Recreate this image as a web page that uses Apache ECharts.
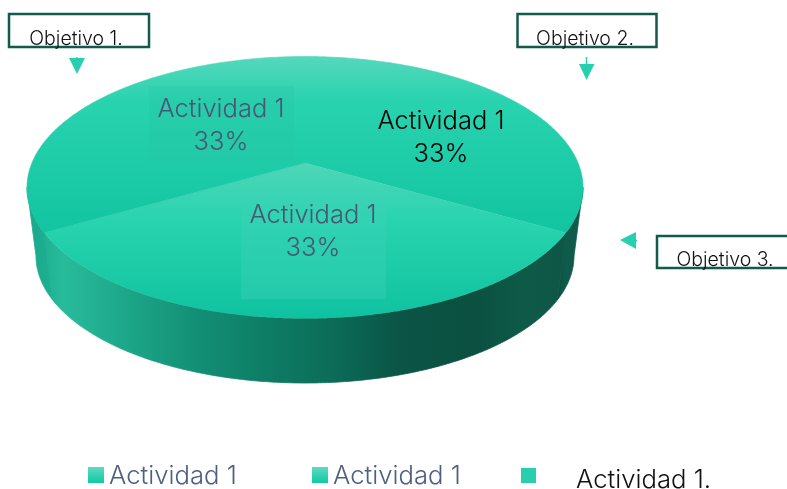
<!DOCTYPE html>
<html><head><meta charset="utf-8">
<style>html,body{margin:0;padding:0;background:#fff}#c{width:787px;height:489px}</style>
<script src="https://cdn.jsdelivr.net/npm/echarts@6/dist/echarts.min.js"></script></head>
<body><div id="c"></div>
<script>
// Data
const categories = ['Actividad 1', 'Actividad 1', 'Actividad 1'];
const values = [33, 33, 33];
const percentLabels = ['33%', '33%', '33%'];
const legendLabels = ['Actividad 1', 'Actividad 1', 'Actividad 1.'];
const objectives = ['Objetivo 1.', 'Objetivo 2.', 'Objetivo 3.'];

// Layout and style
const FONT = 'Inter, "Open Sans", sans-serif';
const TOP = {cx: 305, cy: 187.5, rx: 278, ry: 131};
const BOTTOM = {cx: 305, cy: 256, rx: 269, ry: 127};
const BETA = -0.187;
const START = -90;
const total = values.reduce((a, b) => a + b, 0);
const G = (a, b, c, d, stops) => new echarts.graphic.LinearGradient(a, b, c, d, stops.map(s => ({offset: s[0], color: s[1]})));
const upper = () => G(0, 0, 0, 1, [[0, '#55d8bb'], [0.25, '#29d3af'], [1, '#12c4a1']]);
const topFills = [upper, () => G(0, 0, 0, 1, [[0, '#4fd6b8'], [0.35, '#2ad4b0'], [1, '#0fc29f']]), upper];
const wallFills = [
  () => G(0, 0, 1, 0, [[0, '#0b4f40'], [0.3, '#0f5a4a'], [1, '#0f5a4a']]),
  () => G(0, 0, 1, 0, [[0, '#1fb193'], [0.04, '#27bb9b'], [0.3, '#128e74'], [0.565, '#0b6a56'], [0.68, '#0b5546'], [0.82, '#0b5041'], [0.92, '#0e5a49'], [1, '#0e5645']]),
  () => G(0, 0, 1, 0, [[0, '#18a98b'], [1, '#1fb093']])
];
const labelPos = [[441, 138, null, '#000000'], [313, 232, [241, 191, 145, 108], '#4a5672'], [221, 126, [149, 86, 145, 75], '#4a5672']];

function project(e, deg) {
  const t = deg * Math.PI / 180, x = Math.cos(t), y = Math.sin(t), w = 1 + BETA * y;
  return [e.cx + e.rx * x * Math.sqrt(1 - BETA * BETA) / w, e.cy + e.ry * (y + BETA) / w];
}
function arc(e, from, to) {
  const pts = [], n = Math.max(2, Math.ceil(Math.abs(to - from) * 2));
  for (let i = 0; i <= n; i++) pts.push(project(e, from + (to - from) * i / n));
  return pts;
}
const FRONT_MIN = Math.asin(-BETA) * 180 / Math.PI, FRONT_MAX = 180 - FRONT_MIN;

function renderSlice(params, api) {
  const i = params.dataIndex;
  let a0 = START;
  for (let k = 0; k < i; k++) a0 += values[k] / total * 360;
  const a1 = a0 + api.value(0) / total * 360;
  const children = [];
  // visible part of the side wall
  [0, 360].forEach(off => {
    const f = Math.max(a0, FRONT_MIN + off), t = Math.min(a1, FRONT_MAX + off);
    if (t > f) {
      const wf = wallFills[i]();
      children.push({type: 'polygon', shape: {points: arc(TOP, f, t).concat(arc(BOTTOM, t, f))},
        style: {fill: wf, stroke: wf, lineWidth: 0.8}});
    }
  });
  const fill = topFills[i]();
  children.push({type: 'polygon', shape: {points: [[TOP.cx, TOP.cy + TOP.ry * BETA]].concat(arc(TOP, a0, a1))},
    style: {fill: fill, stroke: i === 1 ? null : fill, lineWidth: i === 1 ? 0 : 0.6}});
  const lp = labelPos[i];
  if (lp[2]) children.push({type: 'rect', shape: {x: lp[2][0], y: lp[2][1], width: lp[2][2], height: lp[2][3]},
    style: {fill: i === 1 ? 'rgba(60,210,185,0.38)' : 'rgba(40,195,165,0.3)'}});
  children.push({type: 'text', x: lp[0], y: lp[1], style: {
    text: categories[i] + '\n' + percentLabels[i], font: '300 25.5px ' + FONT, lineHeight: 33,
    fill: lp[3], align: 'center', verticalAlign: 'middle'}});
  return {type: 'group', children};
}

const BOX = '#125a4b', ARROW = '#27cfae';
const box = (x, y, w, h) => ({type: 'rect', shape: {x, y, width: w, height: h}, style: {fill: '#fff', stroke: BOX, lineWidth: 2.5}});
const txt = (t, x, y, size, fill, align) => ({type: 'text', x, y, z: 5, style: {text: t, font: '300 ' + size + 'px ' + FONT, fill, align: align || 'center', verticalAlign: 'middle'}});
const tri = pts => ({type: 'polygon', shape: {points: pts}, style: {fill: ARROW}});
const line = (x1, y1, x2, y2) => ({type: 'line', shape: {x1, y1, x2, y2}, style: {stroke: ARROW, lineWidth: 1.5}});
const swatch = (x, y, s, fill) => ({type: 'rect', shape: {x, y, width: s, height: s}, style: {fill}});
const legendGrad = () => G(0, 0, 0, 1, [[0, '#5adcc0'], [1, '#10c9a6']]);

const chart = echarts.init(document.getElementById('c'), null, {renderer: 'canvas'});
chart.setOption({
  animation: false,
  backgroundColor: '#ffffff',
  series: [{
    type: 'custom', coordinateSystem: 'none', silent: true,
    data: values.map(v => [v]),
    renderItem: renderSlice
  }],
  graphic: {elements: [
    box(9, 14, 140, 33), txt(objectives[0], 76, 39, 19.5, '#111111'),
    box(517.5, 14, 139, 33), txt(objectives[1], 585, 39, 19.5, '#111111'),
    box(657, 236, 140, 32), txt(objectives[2], 725, 260, 19.5, '#111111'),
    tri([[69, 58], [85, 58], [77, 74]]), line(77, 57, 77, 59),
    tri([[579, 64], [594.5, 64], [586.5, 80]]), line(586.5, 57, 586.5, 65),
    tri([[620, 240], [636, 232], [636, 249]]), line(635, 240.5, 637, 240.5),
    swatch(88, 467, 16, legendGrad()), txt(legendLabels[0], 109, 476, 25.7, '#4e5f80', 'left'),
    swatch(312, 467, 16, legendGrad()), txt(legendLabels[1], 333, 476, 25.7, '#4e5f80', 'left'),
    swatch(521, 468, 15, ARROW), txt(legendLabels[2], 576, 480, 25.7, '#111111', 'left')
  ]}
});
</script></body></html>
